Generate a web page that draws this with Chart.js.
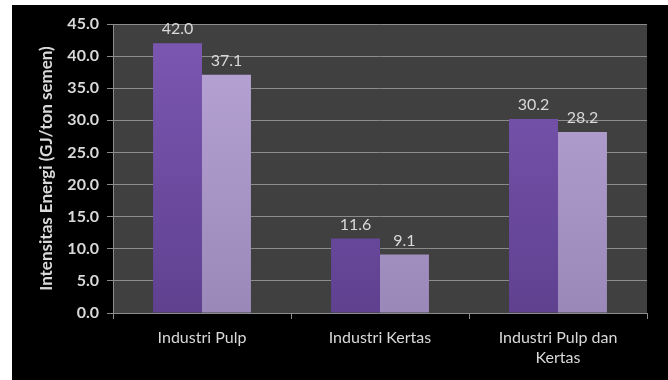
<!DOCTYPE html>
<html>
<head>
<meta charset="utf-8">
<script src="https://cdn.jsdelivr.net/npm/chart.js@4/dist/chart.umd.min.js"></script>
<style>
  html, body { margin: 0; padding: 0; background: #fff; }
  canvas { display: block; }
</style>
</head>
<body>
<canvas id="energiChart" width="668" height="380"></canvas>
<script>
// data
const categories = ["Industri Pulp", "Industri Kertas", ["Industri Pulp dan", "Kertas"]];
const series1 = [42.0, 11.6, 30.2];
const series2 = [37.1, 9.1, 28.2];
const yTicks = [0, 5, 10, 15, 20, 25, 30, 35, 40, 45];

const txt = '#d9d9d9';
const fontFam = 'Lato, "Open Sans", sans-serif';

// black frame + gray plot background
const bgPlugin = {
  id: 'bg',
  beforeDraw(chart) {
    const c = chart.ctx, a = chart.chartArea;
    c.save();
    c.fillStyle = '#fff';
    c.fillRect(0, 0, chart.width, chart.height);
    c.fillStyle = '#000';
    c.fillRect(12, 5, chart.width - 12, chart.height - 5);
    c.fillStyle = '#404040';
    c.fillRect(a.left, a.top, a.right - a.left, a.bottom - a.top);
    c.restore();
  }
};

// value labels over the bars
const valuePlugin = {
  id: 'values',
  afterDatasetsDraw(chart) {
    const c = chart.ctx;
    c.save();
    c.font = '16px ' + fontFam;
    c.fillStyle = txt;
    c.textAlign = 'center';
    c.textBaseline = 'bottom';
    chart.data.datasets.forEach((ds, i) => {
      chart.getDatasetMeta(i).data.forEach((bar, j) => {
        c.fillText(ds.data[j].toFixed(1), bar.x, bar.y - 6);
      });
    });
    c.restore();
  }
};

function barFill(top, bottom) {
  return function (context) {
    const area = context.chart.chartArea;
    if (!area) return top;
    const g = context.chart.ctx.createLinearGradient(0, area.top, 0, area.bottom);
    g.addColorStop(0, top);
    g.addColorStop(1, bottom);
    return g;
  };
}

let ctx = document.getElementById('energiChart').getContext('2d');
let energiChart = new Chart(ctx, {
  type: 'bar',
  data: {
    labels: categories,
    datasets: [{
      label: 'Seri 1',
      data: series1,
      backgroundColor: barFill('#7d58b3', '#5f4190'),
      categoryPercentage: 0.55,
      barPercentage: 1.0
    }, {
      label: 'Seri 2',
      data: series2,
      backgroundColor: barFill('#b9a6d6', '#9a88b8'),
      categoryPercentage: 0.55,
      barPercentage: 1.0
    }]
  },
  options: {
    responsive: false,
    animation: false,
    layout: { padding: { left: 0, top: 24, right: 21, bottom: 0 } },
    plugins: {
      legend: { display: false },
      tooltip: { enabled: false }
    },
    scales: {
      x: {
        grid: { display: true, drawOnChartArea: false, offset: true, color: '#8c8c8c', tickLength: 6 },
        border: { color: '#8c8c8c' },
        ticks: { color: txt, font: { family: fontFam, size: 16, lineHeight: 1.3 }, maxRotation: 0, padding: 8 },
        afterFit(scale) { scale.height = 67; }
      },
      y: {
        min: 0,
        max: 45,
        afterBuildTicks(scale) { scale.ticks = yTicks.map(v => ({ value: v })); },
        grid: { color: '#8c8c8c', tickLength: 6 },
        border: { color: '#8c8c8c' },
        ticks: {
          color: txt,
          font: { family: fontFam, size: 16, weight: 'bold' },
          padding: 8,
          callback: v => v.toFixed(1)
        },
        title: {
          display: true,
          text: 'Intensitas Energi (GJ/ton semen)',
          color: txt,
          font: { family: fontFam, size: 17, weight: 'bold' },
          padding: { top: 36, bottom: 0 }
        },
        afterFit(scale) { scale.width = 113; }
      }
    }
  },
  plugins: [bgPlugin, valuePlugin]
});
</script>
</body>
</html>
